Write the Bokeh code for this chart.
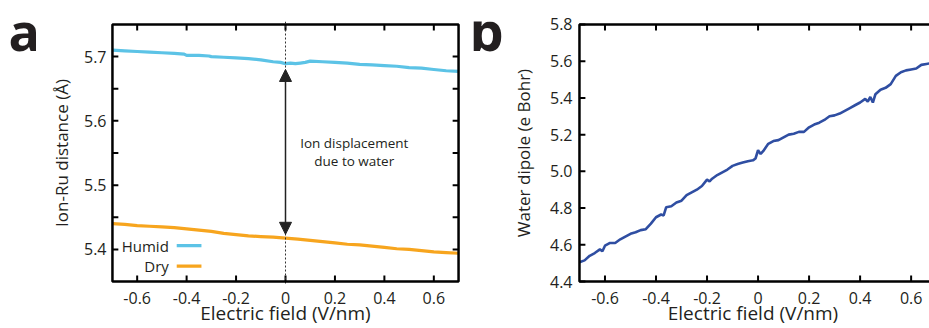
from bokeh.plotting import figure
from bokeh.layouts import row
from bokeh.models import (LinearAxis, FixedTicker, CustomJSTickFormatter, Label,
                          Span, Arrow, NormalHead, Range1d, BoxAnnotation)
from bokeh.embed import file_html
from bokeh.resources import INLINE

# ---------------- data ----------------
humid_x = [-0.70, -0.65, -0.60, -0.55, -0.50, -0.45, -0.41, -0.40, -0.35, -0.31, -0.30,
           -0.25, -0.20, -0.15, -0.10, -0.05, -0.02, 0.00, 0.02, 0.04, 0.06, 0.08,
           0.10, 0.15, 0.20, 0.25, 0.30, 0.35, 0.40, 0.45, 0.50, 0.55, 0.60, 0.65, 0.70]
humid_y = [5.710, 5.709, 5.708, 5.707, 5.706, 5.705, 5.704, 5.702, 5.702, 5.701, 5.700,
           5.699, 5.698, 5.697, 5.695, 5.692, 5.691, 5.689, 5.690, 5.689, 5.690, 5.691,
           5.693, 5.692, 5.691, 5.690, 5.688, 5.687, 5.686, 5.685, 5.683, 5.682, 5.680, 5.678, 5.677]

dry_x = [-0.70, -0.65, -0.60, -0.55, -0.50, -0.45, -0.40, -0.35, -0.30, -0.25, -0.20,
         -0.15, -0.10, -0.05, 0.00, 0.05, 0.10, 0.15, 0.20, 0.25, 0.30, 0.35, 0.40,
         0.45, 0.50, 0.55, 0.60, 0.65, 0.70]
dry_y = [5.440, 5.439, 5.437, 5.436, 5.435, 5.434, 5.432, 5.430, 5.428, 5.425, 5.423,
         5.421, 5.420, 5.419, 5.4175, 5.416, 5.414, 5.412, 5.410, 5.408, 5.407, 5.405, 5.403,
         5.401, 5.400, 5.398, 5.396, 5.395, 5.394]

dipole_x = [-0.70, -0.68, -0.66, -0.64, -0.62, -0.61, -0.60, -0.58, -0.56, -0.54, -0.52,
            -0.50, -0.48, -0.46, -0.44, -0.42, -0.40, -0.38, -0.37, -0.36, -0.34, -0.32,
            -0.30, -0.28, -0.26, -0.24, -0.22, -0.20, -0.19, -0.18, -0.16, -0.14, -0.12,
            -0.10, -0.08, -0.06, -0.04, -0.02, -0.01, 0.00, 0.01, 0.02, 0.04, 0.06, 0.08,
            0.10, 0.12, 0.14, 0.16, 0.18, 0.20, 0.22, 0.24, 0.26, 0.28, 0.30, 0.32, 0.34,
            0.36, 0.38, 0.40, 0.42, 0.43, 0.44, 0.45, 0.46, 0.48, 0.50, 0.52, 0.54, 0.56,
            0.58, 0.60, 0.62, 0.64, 0.66, 0.68, 0.70]
dipole_y = [4.505, 4.515, 4.540, 4.555, 4.575, 4.565, 4.595, 4.610, 4.610, 4.630, 4.645,
            4.660, 4.668, 4.680, 4.685, 4.715, 4.750, 4.765, 4.760, 4.805, 4.810, 4.830,
            4.840, 4.870, 4.885, 4.900, 4.920, 4.955, 4.945, 4.960, 4.980, 4.995, 5.010,
            5.030, 5.040, 5.048, 5.055, 5.060, 5.070, 5.115, 5.095, 5.110, 5.150, 5.165, 5.170,
            5.185, 5.200, 5.205, 5.215, 5.215, 5.240, 5.255, 5.265, 5.280, 5.300, 5.305, 5.315, 5.330,
            5.345, 5.360, 5.375, 5.395, 5.380, 5.405, 5.375, 5.420, 5.445, 5.455, 5.475, 5.520, 5.540,
            5.550, 5.555, 5.560, 5.580, 5.585, 5.590, 5.600]

field_ticks = [-0.6, -0.4, -0.2, 0.0, 0.2, 0.4, 0.6]
dist_ticks = [5.40, 5.45, 5.50, 5.55, 5.60, 5.65, 5.70]
dipole_ticks = [4.4, 4.6, 4.8, 5.0, 5.2, 5.4, 5.6, 5.8]

series_names = ["Humid", "Dry"]
x_title = "Electric field (V/nm)"
ya_title = "Ion-Ru distance (Å)"
yb_title = "Water dipole (e Bohr)"
annot_lines = ["Ion displacement", "due to water"]
panel_letters = ["a", "b"]

# ---------------- style / layout ----------------
FONT = "Open Sans"
TXT = "#231F20"
FRAME = "#000000"
C_HUMID = "#5CC3E6"
C_DRY = "#F7A51E"
C_DIP = "#2F4EA2"

PAD = 3          # px of padding between bokeh frame and drawn box
TICK = 6         # px inward tick length

XA = (-0.7, 0.7)
YA = (5.35, 5.75)
XB = (-0.7, 0.672)
YB = (4.4, 5.8)
BOX_A = (352, 258)   # drawn box size in px (w, h)
BOX_B = (354, 258)

xa_px = (XA[1] - XA[0]) / BOX_A[0]
ya_px = (YA[1] - YA[0]) / BOX_A[1]
xb_px = (XB[1] - XB[0]) / BOX_B[0]
yb_px = (YB[1] - YB[0]) / BOX_B[1]

fmt_x = CustomJSTickFormatter(code="""
if (Math.abs(tick) < 1e-9) return "0";
return tick.toFixed(1);
""")
fmt_ya = CustomJSTickFormatter(code="""
var t = tick*10;
if (Math.abs(t - Math.round(t)) < 1e-6) return tick.toFixed(1);
return "";
""")
fmt_yb = CustomJSTickFormatter(code="return tick.toFixed(1);")


def make_axis(ticks, fmt, title, title_size):
    ax = LinearAxis(ticker=FixedTicker(ticks=ticks))
    ax.axis_line_color = None
    ax.major_tick_line_color = None
    ax.minor_tick_line_color = None
    ax.major_tick_in = 0
    ax.major_tick_out = 0
    ax.minor_tick_in = 0
    ax.minor_tick_out = 0
    ax.formatter = fmt
    ax.major_label_text_font = FONT
    ax.major_label_text_font_size = "16px"
    ax.major_label_text_color = TXT
    ax.axis_label = title
    ax.axis_label_text_font = FONT
    ax.axis_label_text_font_size = title_size
    ax.axis_label_text_font_style = "normal"
    ax.axis_label_text_color = TXT
    return ax


def ticks_h(p, ticks, y0, dy):
    p.segment(x0=ticks, y0=[y0] * len(ticks), x1=ticks, y1=[y0 + dy] * len(ticks),
              line_color=FRAME, line_width=2)


def ticks_v(p, ticks, x0, dx):
    p.segment(x0=[x0] * len(ticks), y0=ticks, x1=[x0 + dx] * len(ticks), y1=ticks,
              line_color=FRAME, line_width=2)


def letter_fig(w, letter, lx, ly, size):
    f = figure(width=w, height=328, output_backend="svg", toolbar_location=None,
               x_range=Range1d(0, w), y_range=Range1d(328, 0),
               x_axis_location=None, y_axis_location=None,
               min_border_left=0, min_border_right=0, min_border_top=0, min_border_bottom=0)
    f.outline_line_color = None
    f.grid.visible = False
    f.add_layout(Label(x=lx, y=ly, text=letter, text_align="left",
                       text_baseline="alphabetic", text_font=FONT, text_font_size=size,
                       text_font_style="bold", text_color=TXT))
    return f


# ---------------- panel a ----------------
pa = figure(width=419, height=328, output_backend="svg", toolbar_location=None,
            x_range=Range1d(XA[0] - PAD * xa_px, XA[1] + PAD * xa_px),
            y_range=Range1d(YA[0] - PAD * ya_px, YA[1] + PAD * ya_px),
            x_axis_location=None, y_axis_location=None,
            min_border_left=60 - PAD, min_border_right=7 - PAD,
            min_border_top=24 - PAD, min_border_bottom=46 - PAD)
pa.outline_line_color = None
pa.grid.visible = False

ax_l = make_axis(dist_ticks, fmt_ya, ya_title, "17px")
ax_l.major_label_standoff = 6 - PAD
ax_l.axis_label_standoff = 8
pa.add_layout(ax_l, "left")
ax_b = make_axis(field_ticks, fmt_x, x_title, "19px")
ax_b.major_label_standoff = 10 - PAD
ax_b.axis_label_standoff = -7
pa.add_layout(ax_b, "below")

pa.add_layout(Span(location=0, dimension="height", line_color="#333333",
                   line_dash="2 2", line_width=1))
pa.line(humid_x, humid_y, line_color=C_HUMID, line_width=3.2)
pa.line(dry_x, dry_y, line_color=C_DRY, line_width=3.2)

ticks_h(pa, field_ticks, YA[0], TICK * ya_px)
ticks_h(pa, field_ticks, YA[1], -TICK * ya_px)
ticks_v(pa, dist_ticks, XA[0], TICK * xa_px)
ticks_v(pa, dist_ticks, XA[1], -TICK * xa_px)
pa.add_layout(BoxAnnotation(left=XA[0], right=XA[1], bottom=YA[0], top=YA[1],
                            fill_alpha=0, line_color=FRAME, line_alpha=1, line_width=2.5))

y_h0 = humid_y[humid_x.index(0.0)]
y_d0 = dry_y[dry_x.index(0.0)]
pa.add_layout(Arrow(x_start=0, y_start=y_d0 + 0.006, x_end=0, y_end=y_h0 - 0.009,
                    line_color="#222222", line_width=1.5,
                    start=NormalHead(size=12, fill_color="#222222", line_color="#222222"),
                    end=NormalHead(size=12, fill_color="#222222", line_color="#222222")))
for i, t in enumerate(annot_lines):
    pa.add_layout(Label(x=0.278, y=5.566 - i * 0.028, text=t, text_align="center",
                        text_baseline="middle", text_font=FONT, text_font_size="13.5px",
                        text_color=TXT))

# legend (text left, key right)
for name, col, yy in zip(series_names, [C_HUMID, C_DRY], [5.406, 5.374]):
    pa.add_layout(Label(x=-0.472, y=yy, text=name, text_align="right",
                        text_baseline="middle", text_font=FONT, text_font_size="15px",
                        text_color=TXT))
    pa.segment(x0=[-0.44], y0=[yy], x1=[-0.34], y1=[yy], line_color=col, line_width=3.2)

# ---------------- panel b ----------------
pb = figure(width=421, height=328, output_backend="svg", toolbar_location=None,
            x_range=Range1d(XB[0] - PAD * xb_px, XB[1]),
            y_range=Range1d(YB[0] - PAD * yb_px, YB[1] + PAD * yb_px),
            x_axis_location=None, y_axis_location=None,
            min_border_left=67 - PAD, min_border_right=0,
            min_border_top=24 - PAD, min_border_bottom=46 - PAD)
pb.outline_line_color = None
pb.grid.visible = False

bx_l = make_axis(dipole_ticks, fmt_yb, yb_title, "17px")
bx_l.major_label_standoff = 7 - PAD
bx_l.axis_label_standoff = 12
pb.add_layout(bx_l, "left")
bx_b = make_axis(field_ticks, fmt_x, x_title, "19px")
bx_b.major_label_standoff = 10 - PAD
bx_b.axis_label_standoff = -7
pb.add_layout(bx_b, "below")

pb.line(dipole_x, dipole_y, line_color=C_DIP, line_width=2.6)

ticks_h(pb, field_ticks, YB[0], TICK * yb_px)
ticks_h(pb, field_ticks, YB[1], -TICK * yb_px)
ticks_v(pb, dipole_ticks, XB[0], TICK * xb_px)
pb.add_layout(BoxAnnotation(left=XB[0], right=XB[1] + 0.2, bottom=YB[0], top=YB[1],
                            fill_alpha=0, line_color=FRAME, line_alpha=1, line_width=2.5))

la = letter_fig(46, panel_letters[0], 8, 11, "52px")
lb = letter_fig(43, panel_letters[1], 4, 11, "54px")

layout = row(la, pa, lb, pb)
open("out.html", "w").write(file_html(layout, INLINE))
